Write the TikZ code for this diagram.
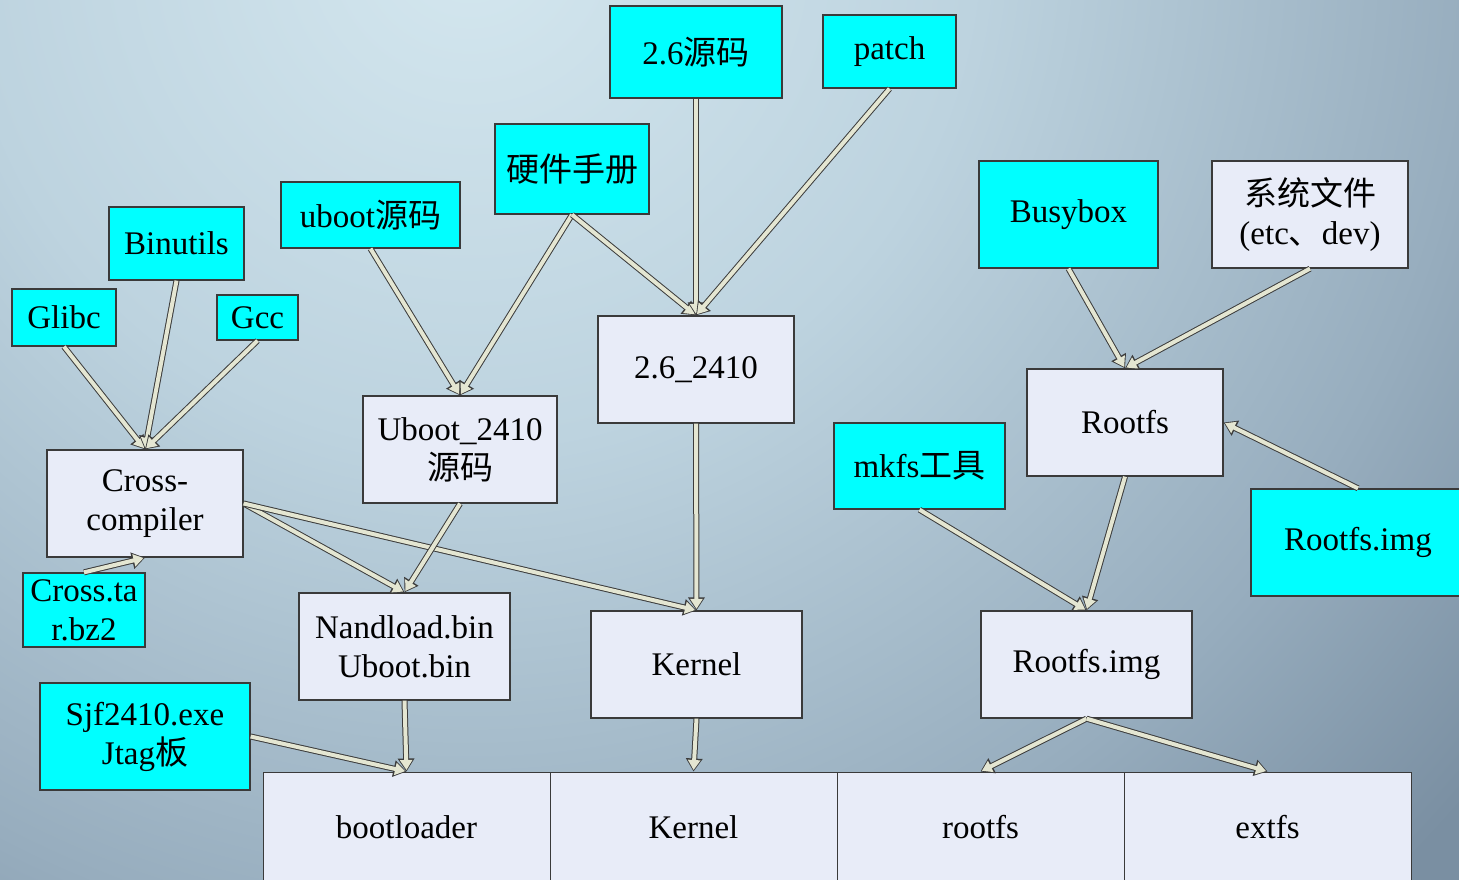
\documentclass[tikz,border=0pt]{standalone}
\usepackage{fontspec}
\setmainfont{Liberation Serif}
\newfontfamily\cjk{Noto Sans CJK SC}
\usetikzlibrary{arrows.meta}
\definecolor{cyanbox}{HTML}{00FFFF}
\definecolor{lavbox}{HTML}{E8ECF8}
\definecolor{boxline}{HTML}{3A3A3A}
\definecolor{edgec}{HTML}{3C3C3C}
\definecolor{beigec}{HTML}{E4E6D2}
\definecolor{bgA}{HTML}{D4E7EF}
\definecolor{bgB}{HTML}{BDD3DF}
\definecolor{bgC}{HTML}{97ADBE}
\definecolor{bgD}{HTML}{7A8FA2}
\pgfdeclareradialshading{bgshade}{\pgfpoint{0bp}{0bp}}{color(0bp)=(bgA); color(9bp)=(bgB); color(18bp)=(bgC); color(23.5bp)=(bgD); color(25bp)=(bgD); color(50bp)=(bgD)}
\tikzset{
  box/.style={draw=boxline, line width=1.3pt, inner sep=0pt, align=center,
    font=\fontsize{33}{39}\selectfont},
  cy/.style={box, fill=cyanbox},
  lv/.style={box, fill=lavbox},
  conn/.style={draw=edgec, line width=6pt, -{Triangle[length=13pt,width=16pt]},
    postaction={draw=beigec, line width=4pt, -{Triangle[length=10pt,width=12pt]}, shorten >=1.5pt}}
}
\begin{document}
\begin{tikzpicture}[x=1pt,y=-1pt]
\useasboundingbox (0,0) rectangle (1459,880);
\begin{scope}
\clip (0,0) rectangle (1459,880);
\fill[bgD] (0,0) rectangle (1459,880);
\shade[shading=bgshade] (470,-60) circle (1400);
\end{scope}
% cyan boxes
\node[cy, minimum width=172, minimum height=92] (src26) at (696,52) {2.6{\cjk 源码}};
\node[cy, minimum width=133, minimum height=73] (patch) at (889.5,51.5) {patch};
\node[cy, minimum width=154, minimum height=90] (hw) at (572,169) {\cjk 硬件手册};
\node[cy, minimum width=179, minimum height=66] (ubsrc) at (370.5,215) {uboot{\cjk 源码}};
\node[cy, minimum width=135, minimum height=73] (binu) at (176.5,243.5) {Binutils};
\node[cy, minimum width=104, minimum height=57] (glibc) at (64,317.5) {Glibc};
\node[cy, minimum width=81, minimum height=45] (gcc) at (257.5,317.5) {Gcc};
\node[cy, minimum width=179, minimum height=107] (busy) at (1068.5,214.5) {Busybox};
\node[cy, minimum width=171, minimum height=86] (mkfs) at (919.5,466) {mkfs{\cjk 工具}};
\node[cy, minimum width=214, minimum height=107] (rimgtop) at (1358,542.5) {Rootfs.img};
\node[cy, minimum width=122, minimum height=74] (ctar) at (84,610) {Cross.ta\\r.bz2};
\node[cy, minimum width=210, minimum height=107] (sjf) at (145,736.5) {Sjf2410.exe\\Jtag{\cjk 板}};
% lavender boxes
\node[lv, minimum width=196, minimum height=107] (sysf) at (1310,214.5) {{\cjk 系统文件}\\(etc{\cjk 、}dev)};
\node[lv, minimum width=196, minimum height=107] (k26) at (696,369.5) {2.6\_2410};
\node[lv, minimum width=194, minimum height=107] (ub) at (460,449.5) {Uboot\_2410\\{\cjk 源码}};
\node[lv, minimum width=196, minimum height=107] (cc) at (145,503.5) {Cross-\\compiler};
\node[lv, minimum width=196, minimum height=107] (rootfs) at (1125,422.5) {Rootfs};
\node[lv, minimum width=211, minimum height=107] (nand) at (404.5,646.5) {Nandload.bin\\Uboot.bin};
\node[lv, minimum width=211, minimum height=107] (kern) at (696.5,664.5) {Kernel};
\node[lv, minimum width=211, minimum height=107] (rimg) at (1086.5,664.5) {Rootfs.img};
% bottom row
\node[lv, line width=1pt, minimum width=287, minimum height=110] (boot) at (406.5,827) {bootloader};
\node[lv, line width=1pt, minimum width=287, minimum height=110] (bkern) at (693.5,827) {Kernel};
\node[lv, line width=1pt, minimum width=287, minimum height=110] (brfs) at (980.5,827) {rootfs};
\node[lv, line width=1pt, minimum width=287, minimum height=110] (bext) at (1267.5,827) {extfs};
% connectors
\draw[conn] (glibc.south) -- (cc.north);
\draw[conn] (binu.south) -- (cc.north);
\draw[conn] (gcc.south) -- (cc.north);
\draw[conn] (ctar.north) -- (cc.south);
\draw[conn] (cc.east) -- (nand.north);
\draw[conn] (cc.east) -- (kern.north);
\draw[conn] (ubsrc.south) -- (ub.north);
\draw[conn] (hw.south) -- (ub.north);
\draw[conn] (hw.south) -- (k26.north);
\draw[conn] (src26.south) -- (k26.north);
\draw[conn] (patch.south) -- (k26.north);
\draw[conn] (ub.south) -- (nand.north);
\draw[conn] (k26.south) -- (kern.north);
\draw[conn] (nand.south) -- (boot.north);
\draw[conn] (sjf.east) -- (boot.north);
\draw[conn] (kern.south) -- (bkern.north);
\draw[conn] (busy.south) -- (rootfs.north);
\draw[conn] (sysf.south) -- (rootfs.north);
\draw[conn] (rimgtop.north) -- (rootfs.east);
\draw[conn] (rootfs.south) -- (rimg.north);
\draw[conn] (mkfs.south) -- (rimg.north);
\draw[conn] (rimg.south) -- (brfs.north);
\draw[conn] (rimg.south) -- (bext.north);
\end{tikzpicture}
\end{document}
